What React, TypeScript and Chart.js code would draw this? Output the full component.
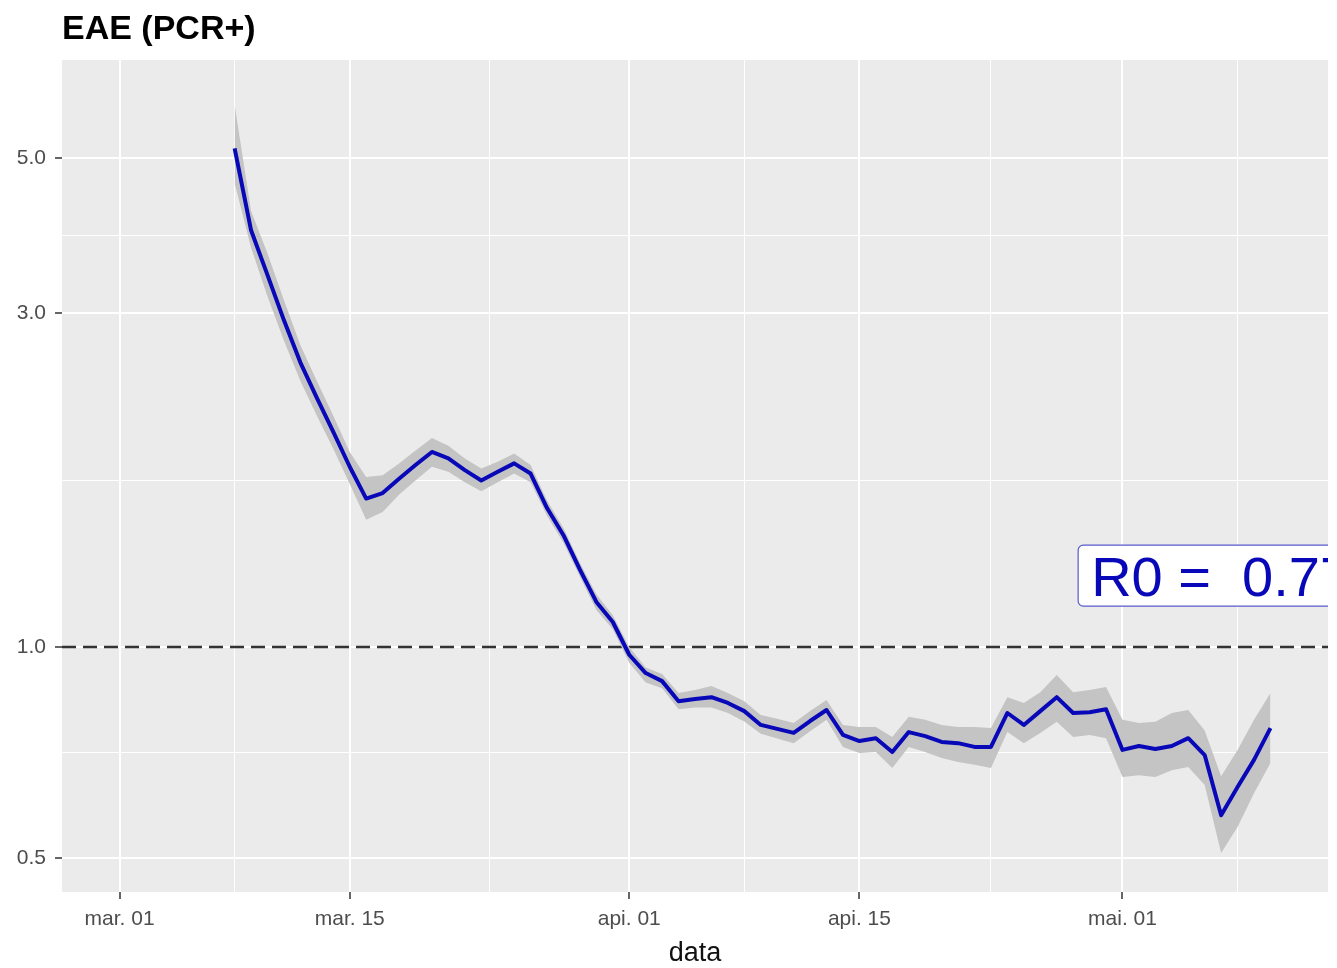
import React, { useEffect, useRef } from "react";
import { Chart, registerables } from "chart.js";

Chart.register(...registerables);

// ---- data ----
const dates = [
  "2020-03-08", "2020-03-09", "2020-03-10", "2020-03-11", "2020-03-12", "2020-03-13", "2020-03-14", "2020-03-15",
  "2020-03-16", "2020-03-17", "2020-03-18", "2020-03-19", "2020-03-20", "2020-03-21", "2020-03-22", "2020-03-23",
  "2020-03-24", "2020-03-25", "2020-03-26", "2020-03-27", "2020-03-28", "2020-03-29", "2020-03-30", "2020-03-31",
  "2020-04-01", "2020-04-02", "2020-04-03", "2020-04-04", "2020-04-05", "2020-04-06", "2020-04-07", "2020-04-08",
  "2020-04-09", "2020-04-10", "2020-04-11", "2020-04-12", "2020-04-13", "2020-04-14", "2020-04-15", "2020-04-16",
  "2020-04-17", "2020-04-18", "2020-04-19", "2020-04-20", "2020-04-21", "2020-04-22", "2020-04-23", "2020-04-24",
  "2020-04-25", "2020-04-26", "2020-04-27", "2020-04-28", "2020-04-29", "2020-04-30", "2020-05-01", "2020-05-02",
  "2020-05-03", "2020-05-04", "2020-05-05", "2020-05-06", "2020-05-07", "2020-05-08", "2020-05-09", "2020-05-10",
];

const r0 = [
  5.16, 3.94, 3.4, 2.93, 2.55, 2.27, 2.03, 1.81,
  1.63, 1.66, 1.74, 1.82, 1.9, 1.86, 1.79, 1.73,
  1.78, 1.83, 1.77, 1.58, 1.445, 1.29, 1.16, 1.086,
  0.975, 0.918, 0.894, 0.837, 0.843, 0.848, 0.832, 0.81,
  0.774, 0.764, 0.754, 0.784, 0.813, 0.749, 0.734, 0.741,
  0.708, 0.756, 0.746, 0.732, 0.729, 0.72, 0.72, 0.805,
  0.774, 0.81, 0.848, 0.805, 0.807, 0.815, 0.713, 0.722,
  0.715, 0.722, 0.741, 0.701, 0.575, 0.631, 0.69, 0.766,
];

const r0Upper = [
  5.95, 4.2, 3.65, 3.13, 2.7, 2.4, 2.14, 1.9,
  1.75, 1.76, 1.83, 1.91, 1.99, 1.94, 1.86, 1.8,
  1.84, 1.89, 1.82, 1.62, 1.48, 1.32, 1.19, 1.11,
  1.0, 0.935, 0.915, 0.86, 0.868, 0.88, 0.86, 0.837,
  0.8, 0.79, 0.779, 0.81, 0.84, 0.774, 0.769, 0.769,
  0.744, 0.795, 0.787, 0.774, 0.769, 0.769, 0.766, 0.848,
  0.832, 0.862, 0.912, 0.862, 0.868, 0.877, 0.787, 0.779,
  0.782, 0.805, 0.813, 0.76, 0.654, 0.713, 0.787, 0.86,
];

const r0Lower = [
  4.6, 3.72, 3.17, 2.74, 2.4, 2.14, 1.92, 1.71,
  1.52, 1.56, 1.65, 1.73, 1.81, 1.78, 1.72, 1.67,
  1.72, 1.77, 1.72, 1.54, 1.41, 1.26, 1.13, 1.06,
  0.95, 0.89, 0.873, 0.815, 0.82, 0.82, 0.805, 0.783,
  0.752, 0.74, 0.729, 0.758, 0.787, 0.72, 0.706, 0.708,
  0.672, 0.72, 0.708, 0.694, 0.685, 0.679, 0.672, 0.756,
  0.729, 0.754, 0.782, 0.744, 0.749, 0.741, 0.652, 0.656,
  0.652, 0.667, 0.674, 0.635, 0.508, 0.553, 0.618, 0.683,
];

const axisOrigin = "2020-03-01";
const xTickDates = ["2020-03-01", "2020-03-15", "2020-04-01", "2020-04-15", "2020-05-01"];
const xTickLabels = ["mar. 01", "mar. 15", "api. 01", "api. 15", "mai. 01"];
const xMinorDays = [7, 22.5, 38, 53, 68];
const xLimits = [-3.5, 73.5];

const yTickValues = [0.5, 1, 3, 5];
const yTickLabels = ["0.5", "1.0", "3.0", "5.0"];
const yMinorValues = [0.7071, 1.7321, 3.873];
const yLimits = [0.4467, 6.9];

const refLineValue = 1;
const titleText = "EAE (PCR+)";
const xAxisTitle = "data";
const labelText = "R0 =  0.77";
const labelPos = { date: "2020-05-07", value: 1.265 };

// ---- helpers ----
const dayOf = (s: string) =>
  Math.round((Date.parse(s + "T00:00:00Z") - Date.parse(axisOrigin + "T00:00:00Z")) / 86400000);

const FONT = "'Liberation Sans', Arial, sans-serif";
const LINE_COLOR = "#0808b8";

export default function App() {
  const canvasRef = useRef<HTMLCanvasElement | null>(null);

  useEffect(() => {
    const canvas = canvasRef.current;
    if (!canvas) return;

    const xs = dates.map(dayOf);
    const pts = (arr: number[]) => arr.map((v, i) => ({ x: xs[i], y: v }));
    const xMajor = xTickDates.map(dayOf);
    const isMinorX = (v: number) => xMinorDays.some((m) => Math.abs(m - v) < 1e-6);
    const isMinorY = (v: number) => yMinorValues.some((m) => Math.abs(m - v) < 1e-6);

    const panelPlugin = {
      id: "panel",
      beforeDraw(chart: any) {
        const { ctx, chartArea: a } = chart;
        ctx.save();
        ctx.fillStyle = "#ffffff";
        ctx.fillRect(0, 0, chart.width, chart.height);
        ctx.fillStyle = "#EBEBEB";
        ctx.fillRect(a.left, a.top, a.right - a.left, a.bottom - a.top);
        ctx.restore();
      },
      beforeDatasetsDraw(chart: any) {
        const { ctx, chartArea: a } = chart;
        const y = chart.scales.y.getPixelForValue(refLineValue);
        ctx.save();
        ctx.strokeStyle = "#333333";
        ctx.lineWidth = 2.5;
        ctx.setLineDash([14, 7]);
        ctx.beginPath();
        ctx.moveTo(a.left, y);
        ctx.lineTo(a.right, y);
        ctx.stroke();
        ctx.restore();
      },
      afterDatasetsDraw(chart: any) {
        const { ctx, chartArea: a } = chart;
        const cx = chart.scales.x.getPixelForValue(dayOf(labelPos.date));
        const cy = chart.scales.y.getPixelForValue(labelPos.value);
        ctx.save();
        ctx.beginPath();
        ctx.rect(a.left, a.top, a.right - a.left, a.bottom - a.top);
        ctx.clip();
        ctx.font = `56px ${FONT}`;
        const tw = ctx.measureText(labelText).width;
        const pad = 13;
        const w = tw + pad * 2;
        const h = 61;
        const x0 = cx - w / 2;
        const y0 = cy - h / 2;
        ctx.beginPath();
        if ((ctx as any).roundRect) (ctx as any).roundRect(x0, y0, w, h, 5);
        else ctx.rect(x0, y0, w, h);
        ctx.fillStyle = "#ffffff";
        ctx.fill();
        ctx.lineWidth = 1.2;
        ctx.strokeStyle = "#5a5ad0";
        ctx.stroke();
        ctx.fillStyle = LINE_COLOR;
        ctx.textBaseline = "alphabetic";
        ctx.textAlign = "left";
        ctx.fillText(labelText, x0 + pad, cy + 20);
        ctx.restore();
      },
      afterDraw(chart: any) {
        const { ctx, chartArea: a } = chart;
        ctx.save();
        ctx.fillStyle = "#000000";
        ctx.font = `bold 34px ${FONT}`;
        ctx.textBaseline = "alphabetic";
        ctx.textAlign = "left";
        ctx.fillText(titleText, a.left, 39);
        ctx.font = `27px ${FONT}`;
        ctx.fillStyle = "#111111";
        ctx.textAlign = "center";
        ctx.fillText(xAxisTitle, (a.left + a.right) / 2, 961);
        ctx.restore();
      },
    };

    const chart = new Chart(canvas, {
      type: "line",
      data: {
        datasets: [
          {
            label: "upper",
            data: pts(r0Upper),
            order: 1,
            borderWidth: 0,
            pointRadius: 0,
            backgroundColor: "#C4C4C4",
            borderColor: "rgba(0,0,0,0)",
            fill: "+1",
            tension: 0,
          },
          {
            label: "lower",
            data: pts(r0Lower),
            order: 2,
            borderWidth: 0,
            pointRadius: 0,
            borderColor: "rgba(0,0,0,0)",
            fill: false,
            tension: 0,
          },
          {
            label: "R0",
            data: pts(r0),
            order: 0,
            borderWidth: 4,
            borderColor: LINE_COLOR,
            pointRadius: 0,
            fill: false,
            tension: 0,
            borderJoinStyle: "round",
            borderCapStyle: "butt",
          },
        ],
      },
      options: {
        responsive: false,
        animation: false,
        events: [],
        layout: { padding: { top: 60, right: 9, left: 0, bottom: 0 } },
        plugins: {
          legend: { display: false },
          tooltip: { enabled: false },
          title: { display: false },
        },
        scales: {
          x: {
            type: "linear",
            min: xLimits[0],
            max: xLimits[1],
            bounds: "data",
            afterBuildTicks(scale: any) {
              const t = xMajor.map((v) => ({ value: v })).concat(xMinorDays.map((v) => ({ value: v })));
              t.sort((p, q) => p.value - q.value);
              scale.ticks = t;
            },
            afterFit(scale: any) {
              scale.height = 76;
            },
            ticks: {
              autoSkip: false,
              maxRotation: 0,
              minRotation: 0,
              padding: 8,
              color: "#4D4D4D",
              font: { family: FONT, size: 21 },
              callback: (v: any) => {
                const i = xMajor.indexOf(Number(v));
                return i >= 0 ? xTickLabels[i] : "";
              },
            },
            grid: {
              color: "#ffffff",
              lineWidth: (c: any) => (c.tick && isMinorX(c.tick.value) ? 1 : 2),
              drawTicks: true,
              tickLength: 7,
              tickWidth: 1.5,
              tickColor: (c: any) => (c.tick && isMinorX(c.tick.value) ? "rgba(0,0,0,0)" : "#333333"),
            },
            border: { display: false },
          },
          y: {
            type: "logarithmic",
            min: yLimits[0],
            max: yLimits[1],
            bounds: "data",
            afterBuildTicks(scale: any) {
              const t = yTickValues.map((v) => ({ value: v })).concat(yMinorValues.map((v) => ({ value: v })));
              t.sort((p, q) => p.value - q.value);
              scale.ticks = t;
            },
            afterFit(scale: any) {
              scale.width = 62;
            },
            ticks: {
              autoSkip: false,
              padding: 9,
              color: "#4D4D4D",
              font: { family: FONT, size: 21 },
              callback: (v: any) => {
                const i = yTickValues.findIndex((t) => Math.abs(t - Number(v)) < 1e-6);
                return i >= 0 ? yTickLabels[i] : "";
              },
            },
            grid: {
              color: "#ffffff",
              lineWidth: (c: any) => (c.tick && isMinorY(c.tick.value) ? 1 : 2),
              drawTicks: true,
              tickLength: 7,
              tickWidth: 1.5,
              tickColor: (c: any) => (c.tick && isMinorY(c.tick.value) ? "rgba(0,0,0,0)" : "#333333"),
            },
            border: { display: false },
          },
        },
      },
      plugins: [panelPlugin],
    } as any);

    return () => chart.destroy();
  }, []);

  return (
    <div style={{ position: "absolute", left: 0, top: 0, width: 1337, height: 968 }}>
      <canvas ref={canvasRef} width={1337} height={968} style={{ display: "block" }} />
    </div>
  );
}
